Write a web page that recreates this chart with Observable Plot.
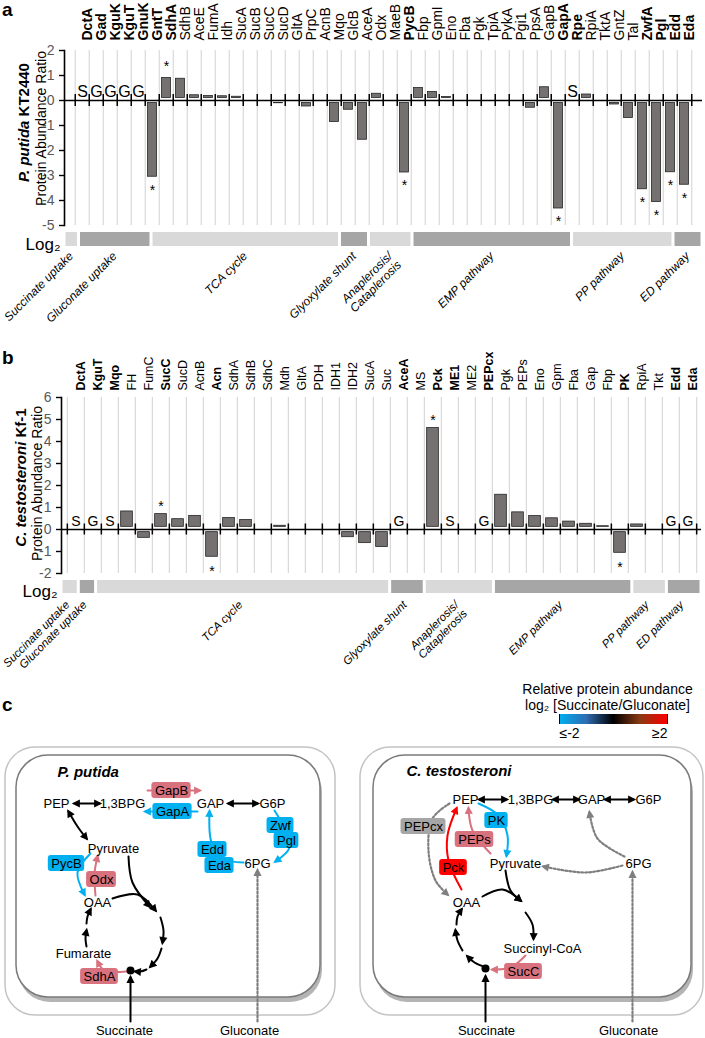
<!DOCTYPE html>
<html><head><meta charset="utf-8">
<script src="https://cdn.jsdelivr.net/npm/d3@7"></script>
<script src="https://cdn.jsdelivr.net/npm/@observablehq/plot@0.6"></script>
<style>
html,body{margin:0;padding:0;background:#fff;}
#root{position:relative;width:705px;height:1038px;overflow:hidden;font-family:'Liberation Sans',Arial,sans-serif;background:#fff;}
.panel{position:absolute;font-weight:bold;font-size:19px;line-height:1;color:#000;}
</style></head><body><div id="root"></div>
<script>
// ---------------- Panel a: P. putida KT2440 ----------------
const genesA = ["DctA","Gad","KguK","KguT","GnuK","GntT","SdhA","SdhB","AceE","FumA","Idh","SucA","SucB","SucC","SucD","GltA","PrpC","AcnB","Mqo","GlcB","AceA","Odx","MaeB","PycB","Fbp","GpmI","Eno","Fba","Pgk","TpiA","PykA","Pgi1","PpsA","GapB","GapA","Rpe","RpiA","TktA","GntZ","Tal","ZwfA","Pgl","Edd","Eda"];
const valuesA = [null,null,null,null,null,-3.15,1.0,0.97,0.31,0.28,0.27,0.25,-0.03,0.19,-0.21,null,-0.34,-0.08,-0.96,-0.47,-1.67,0.37,0.03,-2.98,0.6,0.44,0.24,0.14,0.05,0.03,-0.06,-0.14,-0.39,0.63,-4.42,null,0.34,0.1,-0.26,-0.8,-3.65,-4.16,-2.97,-3.47];
const boldA = ["DctA","Gad","KguK","KguT","GnuK","GntT","SdhA","PycB","GapA","Rpe","ZwfA","Pgl","Edd","Eda"];
const significantA = ["GntT","SdhA","PycB","GapA","ZwfA","Pgl","Edd","Eda"];
const onlySuccinateA = ["DctA","Rpe"];
const onlyGluconateA = ["Gad","KguK","KguT","GnuK"];
const pathwaysA = ["Succinate uptake","Gluconate uptake","TCA cycle","Glyoxylate shunt","Anaplerosis/\nCataplerosis","EMP pathway","PP pathway","ED pathway"];
const pathwayCountsA = [1,5,13,2,3,11,7,2];
const yTicksA = [-5,-4,-3,-2,-1,0,1,2];

// ---------------- Panel b: C. testosteroni KF-1 ----------------
const genesB = ["DctA","KguT","Mqo","FH","FumC","SucC","SucD","AcnB","Acn","SdhA","SdhB","SdhC","Mdh","GltA","PDH","IDH1","IDH2","SucA","Suc","AceA","MS","Pck","ME1","ME2","PEPcx","Pgk","PEPs","Eno","Gpm","Fba","Gap","Fbp","PK","RpiA","Tkt","Edd","Eda"];
const valuesB = [null,null,null,0.94,-0.5,0.82,0.59,0.74,-1.36,0.64,0.55,0.02,0.29,0.02,null,-0.03,-0.47,-0.74,-0.92,null,-0.22,4.73,null,0.23,null,1.7,0.9,0.73,0.63,0.48,0.38,0.27,-1.18,0.35,0.07,null,null];
const boldB = ["DctA","KguT","Mqo","SucC","Acn","AceA","Pck","ME1","PEPcx","PK","Edd","Eda"];
const significantB = ["SucC","Acn","Pck","PK"];
const onlySuccinateB = ["DctA","Mqo","ME1"];
const onlyGluconateB = ["KguT","AceA","PEPcx","Edd","Eda"];
const pathwaysB = ["Succinate uptake","Gluconate uptake","TCA cycle","Glyoxylate shunt","Anaplerosis/\nCataplerosis","EMP pathway","PP pathway","ED pathway"];
const pathwayCountsB = [1,1,17,2,4,8,2,2];
const yTicksB = [-2,-1,0,1,2,3,4,5,6];

// ---------------- Panel c: pathway diagram ----------------
const toneColor = {black:"#000000", up:"#d9727f", down:"#00b0f0", strong:"#ff0000", nd:"#7f7f7f"};
const boxColor = {up:"#d9727f", down:"#00b0f0", strong:"#ff0000", nd:"#a6a6a6"};
const cellsC = [
  {species:"P. putida", ox1:5, ox2:335, oy1:747, oy2:1015, ix1:16, ix2:320, iy1:755, iy2:997, tx:57, ty:772},
  {species:"C. testosteroni", ox1:360, ox2:703, oy1:747, oy2:1015, ix1:373, ix2:691, iy1:755, iy2:997, tx:406, ty:771}
];
const metabolitesC = [
  {label:"PEP",x:56,y:803},{label:"1,3BPG",x:122,y:803},{label:"GAP",x:210,y:803},{label:"G6P",x:272,y:803},
  {label:"Pyruvate",x:113,y:848},{label:"OAA",x:97,y:902},{label:"Fumarate",x:83,y:953},{label:"6PG",x:257,y:863},
  {label:"Succinate",x:124,y:1030},{label:"Gluconate",x:249,y:1030},
  {label:"PEP",x:465,y:799},{label:"1,3BPG",x:530,y:799},{label:"GAP",x:591,y:799},{label:"G6P",x:648,y:799},
  {label:"Pyruvate",x:515,y:863},{label:"6PG",x:638,y:863},{label:"OAA",x:466,y:902},{label:"Succinyl-CoA",x:542,y:948},
  {label:"Succinate",x:486,y:1030},{label:"Gluconate",x:628,y:1030}
];
const enzymesC = [
  {label:"GapB",x:171,y:790,tone:"up"},{label:"GapA",x:172,y:811,tone:"down"},
  {label:"Zwf",x:280,y:825,tone:"down"},{label:"Pgl",x:286,y:840,tone:"down"},
  {label:"Edd",x:212,y:849,tone:"down"},{label:"Eda",x:219,y:865,tone:"down"},
  {label:"PycB",x:66,y:863,tone:"down"},{label:"Odx",x:101,y:879,tone:"up"},{label:"SdhA",x:99,y:976,tone:"up"},
  {label:"PEPcx",x:423,y:826,tone:"nd"},{label:"PK",x:496,y:820,tone:"down"},{label:"PEPs",x:474,y:839,tone:"up"},
  {label:"Pck",x:453,y:867,tone:"strong"},{label:"SucC",x:523,y:971,tone:"up"}
];
const arrowsC = [
  {kind:"both",tone:"black",pts:[[74,803],[99,803]]},
  {kind:"both",tone:"black",pts:[[228,803],[257,803]]},
  {kind:"end",tone:"up",pts:[[147,790],[199,790]]},
  {kind:"end",tone:"down",pts:[[197,811],[145,811]]},
  {kind:"end",tone:"down",pts:[[274,810],[284,828],[289,847],[275,861]]},
  {kind:"end",tone:"down",pts:[[243,862],[222,858],[211,842],[209,811]]},
  {kind:"both",tone:"black",pts:[[68,811],[77,826],[86,838]]},
  {kind:"end",tone:"down",pts:[[90,853],[77,872],[84,894]]},
  {kind:"end",tone:"up",pts:[[95,895],[94,873],[97,856]]},
  {kind:"end",tone:"black",pts:[[112,898],[137,894],[155,910]]},
  {kind:"end",tone:"black",pts:[[128,856],[132,882],[149,906]]},
  {kind:"end",tone:"black",pts:[[160,917],[163,930],[162,942]]},
  {kind:"end",tone:"black",pts:[[161,948],[157,958],[150,966]]},
  {kind:"end",tone:"black",pts:[[146,969],[140,971],[135,971]]},
  {kind:"end",tone:"black",pts:[[86,946],[85,938],[86,930]]},
  {kind:"end",tone:"black",pts:[[86,923],[87,916],[90,909]]},
  {kind:"end",tone:"up",pts:[[126,971],[104,970],[97,961]]},
  {kind:"end",tone:"black",pts:[[130,1021],[130,977]]},
  {kind:"dotted",tone:"nd",pts:[[257,1021],[257,870]]},
  {kind:"both",tone:"black",pts:[[479,799],[506,799]]},
  {kind:"both",tone:"black",pts:[[553,799],[578,799]]},
  {kind:"both",tone:"black",pts:[[605,799],[633,799]]},
  {kind:"dotted",tone:"nd",pts:[[449,803],[432,818],[428,850],[435,880],[447,894]]},
  {kind:"end",tone:"strong",pts:[[461,889],[448,860],[447,835],[456,808]]},
  {kind:"end",tone:"up",pts:[[490,853],[472,830],[468,808]]},
  {kind:"end",tone:"down",pts:[[478,803],[498,815],[507,835],[506,855]]},
  {kind:"end",tone:"black",pts:[[505,870],[510,890],[520,900]]},
  {kind:"end",tone:"black",pts:[[482,896],[502,889],[520,900]]},
  {kind:"end",tone:"black",pts:[[525,912],[532,924],[533,938]]},
  {kind:"end",tone:"black",pts:[[483,966],[474,962],[467,956]]},
  {kind:"end",tone:"black",pts:[[462,950],[457,940],[455,930]]},
  {kind:"end",tone:"black",pts:[[456,924],[457,916],[461,909]]},
  {kind:"end",tone:"up",pts:[[525,955],[510,967],[492,969]]},
  {kind:"end",tone:"black",pts:[[485,1021],[485,976]]},
  {kind:"dotted",tone:"nd",pts:[[632,1021],[632,872]]},
  {kind:"dotted",tone:"nd",pts:[[622,865],[585,872],[543,866]]},
  {kind:"dotted",tone:"nd",pts:[[624,856],[597,838],[589,812]]}
];
const junctionsC = [{x:130,y:970},{x:485,y:968}];
const legendTitleC = [{text:"Relative protein abundance",x:607,y:689},{text:"log₂ [Succinate/Gluconate]",x:607,y:705}];
const legendEndsC = [{text:"≤-2",x:559,y:733,side:"start"},{text:"≥2",x:667,y:733,side:"end"}];
const legendStops = [-2,-1,0,1,2];
const legendColors = ["#00b0f0","#2f6db3","#000000","#8a3a12","#ff0000"];

// ---------------- helpers ----------------
const root = document.getElementById("root");
const F = "'Liberation Sans', Arial, Helvetica, sans-serif";
const STYLE = {background:"none", fontFamily:F, overflow:"visible", color:"black"};
const mctx = document.createElement("canvas").getContext("2d");
const textWidth = (s, font) => { mctx.font = font; return mctx.measureText(s).width; };
function place(el, left, top) { el.style.position = "absolute"; el.style.left = left + "px"; el.style.top = top + "px"; root.appendChild(el); return el; }
function letter(t, left, top) { const d = document.createElement("div"); d.className = "panel"; d.textContent = t; place(d, left, top); }

function barChart(o) {
  const n = o.genes.length;
  const bw = (705 - o.ml - o.mr) / n;
  const rows = o.genes.map((g, i) => ({gene: g, value: o.values[i],
    only: o.onlyS.includes(g) ? "S" : o.onlyG.includes(g) ? "G" : null}));
  const bars = rows.filter(d => d.value != null);
  const pos = bars.filter(d => o.sig.includes(d.gene) && d.value > 0);
  const neg = bars.filter(d => o.sig.includes(d.gene) && d.value < 0);
  const lastGene = [o.genes[n - 1]];
  const f1 = `bold ${o.t1Size}px ${F}`, f1i = `italic bold ${o.t1Size}px ${F}`;
  const wA = textWidth(o.t1a, f1i), wSp = textWidth(" ", f1), wB = textWidth(o.t1b, f1);
  const bottom1 = o.t1c + (wA + wSp + wB) / 2;
  const split = bottom1 - wA;
  return Plot.plot({
    width: 705, height: o.height, marginTop: o.mt, marginBottom: o.mb, marginLeft: o.ml, marginRight: o.mr,
    style: STYLE,
    x: {domain: o.genes, padding: 0, axis: null},
    y: {domain: o.yDomain, axis: null},
    marks: [
      Plot.ruleX(o.genes, {x: d => d, dx: -bw / 2, stroke: "#d9d9d9", strokeWidth: 1.2}),
      Plot.ruleX(lastGene, {x: d => d, dx: bw / 2, stroke: "#d9d9d9", strokeWidth: 1.2}),
      Plot.barY(bars, {x: "gene", y: "value", fill: "#767171", stroke: "#262626", strokeWidth: 0.8, inset: o.inset}),
      Plot.ruleY([0], {stroke: "black", strokeWidth: 1.6}),
      Plot.ruleX(o.genes, {x: d => d, dx: -bw / 2, y1: -o.tickHalf, y2: o.tickHalf, stroke: "black", strokeWidth: 1.5}),
      Plot.ruleX(lastGene, {x: d => d, dx: bw / 2, y1: -o.tickHalf, y2: o.tickHalf, stroke: "black", strokeWidth: 1.5}),
      Plot.frame({anchor: "left", stroke: "black", strokeWidth: 1.6}),
      Plot.axisY({ticks: o.yTicks, tickSize: 5, tickPadding: 5, tickFormat: d => String(d), fontSize: 14, fill: "#595959", stroke: "black", strokeWidth: 1.4, label: null}),
      Plot.text(rows.filter(d => o.bold.includes(d.gene)), {x: "gene", text: "gene", frameAnchor: "top", dy: -o.labelGap, rotate: -90, textAnchor: "start", fontSize: o.labelSize, fontWeight: "bold"}),
      Plot.text(rows.filter(d => !o.bold.includes(d.gene)), {x: "gene", text: "gene", frameAnchor: "top", dy: -o.labelGap, rotate: -90, textAnchor: "start", fontSize: o.labelSize}),
      Plot.text(rows.filter(d => d.only), {x: "gene", y: 0, text: "only", dy: o.onlyDy, fontSize: o.onlySize}),
      Plot.text(pos, {x: "gene", y: "value", text: () => "*", dy: o.posDy, fontSize: 14}),
      Plot.text(neg, {x: "gene", y: "value", text: () => "*", dy: o.negDy, fontSize: 14}),
      Plot.text([o.t1a], {text: d => d, frameAnchor: "top-left", dx: o.t1x - o.ml, dy: split - o.mt, rotate: -90, textAnchor: "end", fontSize: o.t1Size, fontWeight: "bold", fontStyle: "italic"}),
      Plot.text([o.t1b], {text: d => d, frameAnchor: "top-left", dx: o.t1x - o.ml, dy: split - wSp - o.mt, rotate: -90, textAnchor: "start", fontSize: o.t1Size, fontWeight: "bold"}),
      Plot.text([o.t2], {text: d => d, frameAnchor: "top-left", dx: o.t2x - o.ml, dy: o.t2c - o.mt, rotate: -90, textAnchor: "middle", fontSize: o.t2Size})
    ]
  });
}

function pathwayGroups(names, counts) {
  let s = 0;
  return names.map((name, i) => {
    const g = {name, start: s, end: s + counts[i], mid: s + counts[i] / 2, shade: i % 2 ? "#a6a6a6" : "#d9d9d9"};
    s += counts[i];
    return g;
  });
}

function bandChart(o) {
  const groups = pathwayGroups(o.names, o.counts);
  const n = d3.sum(o.counts);
  return Plot.plot({
    width: 705, height: o.height, marginTop: o.mt, marginBottom: o.height - o.mt - o.bandH, marginLeft: o.ml, marginRight: o.mr,
    style: STYLE,
    x: {domain: [0, n], axis: null},
    y: {domain: [0, 1], axis: null},
    marks: [
      Plot.rect(groups, {x1: "start", x2: "end", y1: 0, y2: 1, fill: "shade", insetLeft: 1.5, insetRight: 1.5}),
      Plot.text(groups, {x: "mid", y: 0, text: "name", rotate: -45, textAnchor: "end", lineAnchor: "top", dx: o.ldx, dy: o.ldy, fontSize: o.lsize, fontStyle: "italic", lineHeight: 1.05}),
      Plot.text(["Log₂"], {text: d => d, frameAnchor: "bottom-left", textAnchor: "end", lineAnchor: "bottom", dx: -4, dy: 3, fontSize: 17})
    ]
  });
}

// ---------------- build panels ----------------
letter("a", 2, 0);
place(barChart({genes: genesA, values: valuesA, bold: boldA, sig: significantA, onlyS: onlySuccinateA, onlyG: onlyGluconateA,
  yDomain: [-5, 2], yTicks: yTicksA, height: 230, mt: 50, mb: 5, ml: 64, mr: 3, labelSize: 14, labelGap: 10, inset: 2.5, tickHalf: 0.24,
  onlyDy: -9, onlySize: 16, posDy: -9, negDy: 11,
  t1a: "P. putida", t1b: "KT2440", t1Size: 15, t1x: 18, t1c: 122, t2: "Protein Abundance Ratio", t2Size: 14, t2x: 36, t2c: 128}), 0, 0);
place(bandChart({names: pathwaysA, counts: pathwayCountsA, height: 110, mt: 2, bandH: 14, ml: 64, mr: 3, ldx: -4, ldy: 4, lsize: 12}), 0, 230);

letter("b", 2, 348);
place(barChart({genes: genesB, values: valuesB, bold: boldB, sig: significantB, onlyS: onlySuccinateB, onlyG: onlyGluconateB,
  yDomain: [-2, 6], yTicks: yTicksB, height: 223, mt: 42, mb: 5, ml: 61, mr: 4, labelSize: 12.5, labelGap: 7, inset: 2.65, tickHalf: 0.25,
  onlyDy: -8, onlySize: 14, posDy: -5, negDy: 12,
  t1a: "C. testosteroni", t1b: "Kf-1", t1Size: 15, t1x: 15, t1c: 122, t2: "Protein Abundance Ratio", t2Size: 14, t2x: 32, t2c: 128}), 0, 355);
place(bandChart({names: pathwaysB, counts: pathwayCountsB, height: 110, mt: 5, bandH: 13, ml: 61, mr: 4, ldx: -6, ldy: 6, lsize: 11.5}), 0, 575);

// ---------------- diagram ----------------
const SVGNS = "http://www.w3.org/2000/svg";
function arrowHead(orient) {
  return (color) => {
    const m = document.createElementNS(SVGNS, "marker");
    m.setAttribute("viewBox", "-5 -5 10 10");
    m.setAttribute("markerUnits", "userSpaceOnUse");
    m.setAttribute("markerWidth", "9");
    m.setAttribute("markerHeight", "9");
    m.setAttribute("refX", "2");
    m.setAttribute("refY", "0");
    m.setAttribute("orient", orient);
    m.setAttribute("overflow", "visible");
    const p = document.createElementNS(SVGNS, "path");
    p.setAttribute("d", "M-4,-4.5L5,0L-4,4.5Z");
    p.setAttribute("fill", color);
    p.setAttribute("stroke", "none");
    m.appendChild(p);
    return m;
  };
}
const headEnd = arrowHead("auto"), headStart = arrowHead("auto-start-reverse");
const arrowPts = arrowsC.flatMap((a, id) => a.pts.map(([x, y]) => ({id, x, y, kind: a.kind, color: toneColor[a.tone]})));
const enzymeBoxes = enzymesC.map(e => {
  const w = textWidth(e.label, `13px ${F}`);
  return {...e, x1: e.x - w / 2 - 3, x2: e.x + w / 2 + 3, y1: e.y - 8, y2: e.y + 8, fill: boxColor[e.tone]};
});

letter("c", 2, 695);
const diagram = Plot.plot({
  width: 705, height: 398, margin: 0,
  x: {domain: [0, 705], range: [0, 705], axis: null},
  y: {domain: [640, 1038], range: [0, 398], axis: null},
  style: STYLE,
  marks: [
    Plot.rect(cellsC, {x1: "ox1", x2: "ox2", y1: "oy1", y2: "oy2", rx: 30, fill: "white", stroke: "#c4c4c4", strokeWidth: 1.5}),
    Plot.rect(cellsC, {x1: "ix1", x2: "ix2", y1: "iy1", y2: "iy2", rx: 32, fill: "#777777", fillOpacity: 0.55, dx: 2, dy: 5, ariaLabel: "shadow"}),
    Plot.rect(cellsC, {x1: "ix1", x2: "ix2", y1: "iy1", y2: "iy2", rx: 32, fill: "white", stroke: "#7a7a7a", strokeWidth: 1.5}),
    Plot.line(arrowPts.filter(d => d.kind === "end"), {x: "x", y: "y", z: "id", stroke: "color", strokeWidth: 2, curve: "catmull-rom", markerEnd: headEnd}),
    Plot.line(arrowPts.filter(d => d.kind === "both"), {x: "x", y: "y", z: "id", stroke: "color", strokeWidth: 2, curve: "catmull-rom", markerStart: headStart, markerEnd: headEnd}),
    Plot.line(arrowPts.filter(d => d.kind === "dotted"), {x: "x", y: "y", z: "id", stroke: "color", strokeWidth: 2.2, strokeDasharray: "2,2", curve: "catmull-rom", markerEnd: headEnd}),
    Plot.rect(enzymeBoxes, {x1: "x1", x2: "x2", y1: "y1", y2: "y2", rx: 3, fill: "fill"}),
    Plot.text(enzymeBoxes, {x: "x", y: "y", text: "label", fontSize: 13}),
    Plot.text(metabolitesC, {x: "x", y: "y", text: "label", fontSize: 13}),
    Plot.dot(junctionsC, {x: "x", y: "y", r: 4, fill: "black"}),
    Plot.text(cellsC, {x: "tx", y: "ty", text: "species", textAnchor: "start", fontSize: 15, fontWeight: "bold", fontStyle: "italic"}),
    Plot.text(legendTitleC, {x: "x", y: "y", text: "text", fontSize: 14}),
    Plot.text(legendEndsC.filter(d => d.side === "start"), {x: "x", y: "y", text: "text", textAnchor: "start", fontSize: 14}),
    Plot.text(legendEndsC.filter(d => d.side === "end"), {x: "x", y: "y", text: "text", textAnchor: "end", fontSize: 14})
  ]
});
place(diagram, 0, 640);
const sh = diagram.querySelector('g[aria-label="shadow"]');
if (sh) sh.style.filter = "blur(4px)";

const legend = Plot.legend({color: {type: "linear", domain: legendStops, range: legendColors},
  width: 128, height: 10, marginTop: 0, marginBottom: 0, marginLeft: 10, marginRight: 10,
  tickSize: 0, tickFormat: () => "", label: null, style: {background: "none"}});
place(legend, 549, 714);
</script></body></html>
